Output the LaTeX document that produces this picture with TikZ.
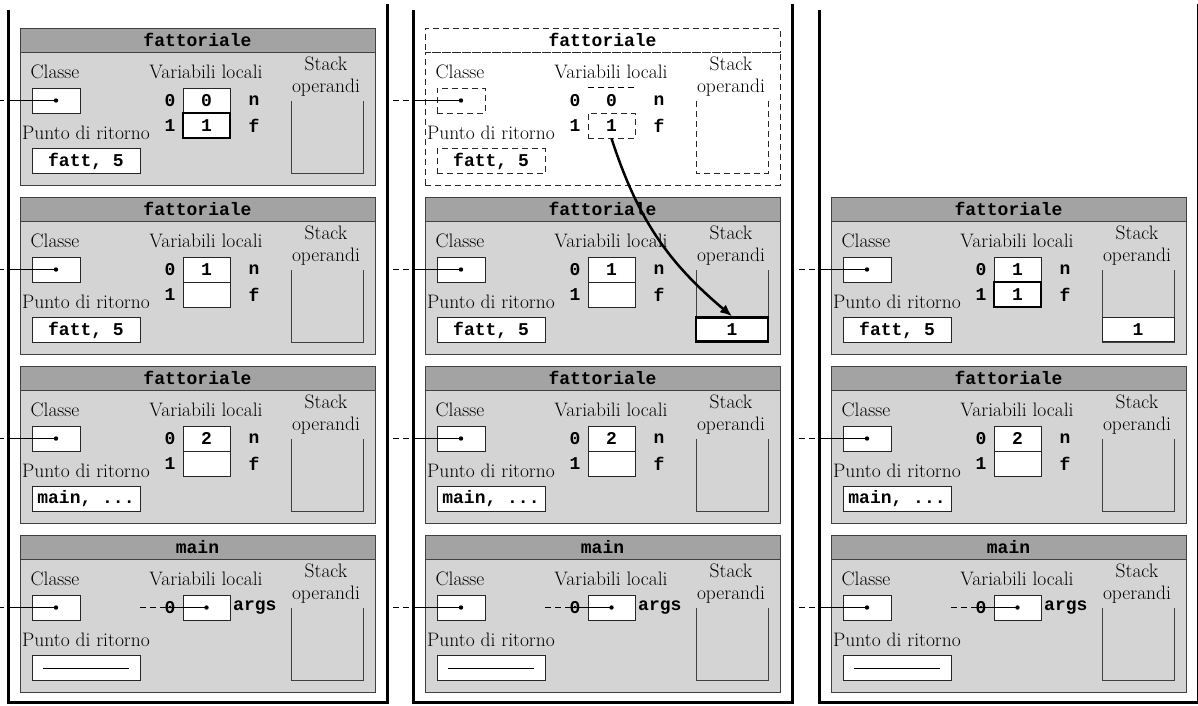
\documentclass[tikz,border=0pt]{standalone}
\usepackage{fontspec}
\setmonofont{Liberation Mono}
\usetikzlibrary{arrows.meta, positioning}

\definecolor{hdrgray}{gray}{0.64}
\definecolor{bodygray}{gray}{0.83}
\definecolor{edgegray}{gray}{0.25}

\newcommand{\txt}{\fontsize{19.5}{22}\selectfont}
\newcommand{\code}{\fontsize{18}{20}\selectfont\ttfamily\bfseries}

% frame of the stack: prefix, origin, method, return point, options
\newcommand{\frameskel}[5]{%
  \begin{scope}[shift={#2}, #5]
    \node[hdr] (#1-h) at (177.5,12) {#3};
    \node[body] (#1-b) at (177.5,90.5) {};
    \node[lbl] at (35,44) {Classe};
    \node[lbl] at (186,44) {Variabili locali};
    \node[lbl, align=center] at (306,49) {Stack\\operandi};
    \node[lbl] at (66,105) {Punto di ritorno};
    \node[cell, minimum width=48] (#1-cls) at (36,72.5) {};
    \node[cell, minimum width=108] (#1-ret) at (66,133) {#4};
    \draw[stackline] (271,73) -- (271,145) -- (343,145) -- (343,73);
    \coordinate (#1-out) at (-32,72.5);
    \coordinate (#1-wall) at (-12,72.5);
    \fill (#1-cls.center) circle (2.2);
    \draw[refdash] (#1-out) -- (#1-wall);
    \draw[ref] (#1-wall) -- (#1-cls.center);
  \end{scope}}

% local variables n and f: prefix, origin, n, f, n options, f options
\newcommand{\localvars}[6]{%
  \begin{scope}[shift={#2}]
    \node[idx] (#1-i0) at (150,72.5) {0};
    \node[idx] (#1-i1) at (150,97.5) {1};
    \node[cell, #5] (#1-v0) at (186.5,72.5) {#3};
    \node[cell, #6] (#1-v1) at (186.5,97.5) {#4};
    \node[idx] (#1-n0) at (234,72.5) {n};
    \node[idx] (#1-n1) at (234,97.5) {f};
  \end{scope}}

% local variable args of main: prefix, origin
\newcommand{\mainargs}[2]{%
  \begin{scope}[shift={#2}]
    \node[idx] (#1-i0) at (150,72.5) {0};
    \node[cell] (#1-v0) at (186.5,72.5) {};
    \node[idx, anchor=west] (#1-n0) at (213,72.5) {args};
    \coordinate (#1-ext) at (120,72.5);
    \fill (#1-v0.center) circle (2.2);
    \draw[refdash] (#1-ext) -- (#1-i0.west);
    \draw[ref] (#1-i0.west) -- (#1-v0.center);
    \draw[ref] ([xshift=11]#1-ret.west) -- ([xshift=-12]#1-ret.east);
  \end{scope}}

\begin{document}
\begin{tikzpicture}[
  x=1pt, y=-1pt,
  wall/.style={line width=3pt},
  hdr/.style={draw=edgegray, fill=hdrgray, line width=1pt, minimum width=355, minimum height=24, inner sep=0, font=\code},
  body/.style={draw=edgegray, fill=bodygray, line width=1pt, minimum width=355, minimum height=133, inner sep=0},
  lbl/.style={inner sep=0, font=\txt},
  idx/.style={inner sep=0, font=\code},
  cell/.style={draw=black!85, fill=white, line width=1pt, minimum width=47, minimum height=25, inner sep=0, font=\code},
  thickcell/.style={draw=black, line width=2.5pt},
  stackline/.style={draw=edgegray, line width=1pt},
  ref/.style={line width=0.8pt},
  refdash/.style={line width=0.8pt, dash pattern=on 6pt off 4pt},
  ghostcell/.style={fill=none, dash pattern=on 6pt off 4pt},
  ghost/.style={
    hdr/.append style={fill=none, draw=black!85, dash pattern=on 6pt off 4pt},
    body/.append style={fill=none, draw=black!85, dash pattern=on 6pt off 4pt},
    cell/.append style={fill=none, dash pattern=on 6pt off 4pt},
    stackline/.append style={draw=black!85, dash pattern=on 6pt off 4pt}},
  move/.style={-{Latex[length=12pt, width=10pt]}, line width=2.5pt}
]
\useasboundingbox (0,0) rectangle (1198,705);

% the three snapshots of the stack
\foreach \x in {8,413,819}
  \draw[wall] (\x,10) -- (\x,702) -- (\x+379,702) -- (\x+379,4);

% first snapshot
\frameskel{a1}{(20,28)}{fattoriale}{fatt, 5}{}
\localvars{a1}{(20,28)}{0}{1}{}{thickcell}
\frameskel{a2}{(20,197)}{fattoriale}{fatt, 5}{}
\localvars{a2}{(20,197)}{1}{}{}{}
\frameskel{a3}{(20,366)}{fattoriale}{main, ...}{}
\localvars{a3}{(20,366)}{2}{}{}{}
\frameskel{a4}{(20,535)}{main}{}{}
\mainargs{a4}{(20,535)}

% second snapshot
\frameskel{g}{(425,28)}{fattoriale}{fatt, 5}{ghost}
\localvars{g}{(425,28)}{0}{1}{draw=none, fill=none}{ghostcell}
\draw[ref, dash pattern=on 6pt off 4pt] (g-v0.north west) -- (g-v0.north east);
\frameskel{b2}{(425,197)}{fattoriale}{fatt, 5}{}
\localvars{b2}{(425,197)}{1}{}{}{}
\node[cell, thickcell, minimum width=72, minimum height=24] (b2-s1) at (732,329.5) {1};
\frameskel{b3}{(425,366)}{fattoriale}{main, ...}{}
\localvars{b3}{(425,366)}{2}{}{}{}
\frameskel{b4}{(425,535)}{main}{}{}
\mainargs{b4}{(425,535)}

% third snapshot
\frameskel{c2}{(831,197)}{fattoriale}{fatt, 5}{}
\localvars{c2}{(831,197)}{1}{1}{}{thickcell}
\node[cell, minimum width=72, minimum height=24] (c2-s1) at (1138,329.5) {1};
\frameskel{c3}{(831,366)}{fattoriale}{main, ...}{}
\localvars{c3}{(831,366)}{2}{}{}{}
\frameskel{c4}{(831,535)}{main}{}{}
\mainargs{c4}{(831,535)}

% return value moved onto the operand stack
\draw[move] (g-v1.south) to[out=-72, in=140] (b2-s1.north);
\end{tikzpicture}
\end{document}
